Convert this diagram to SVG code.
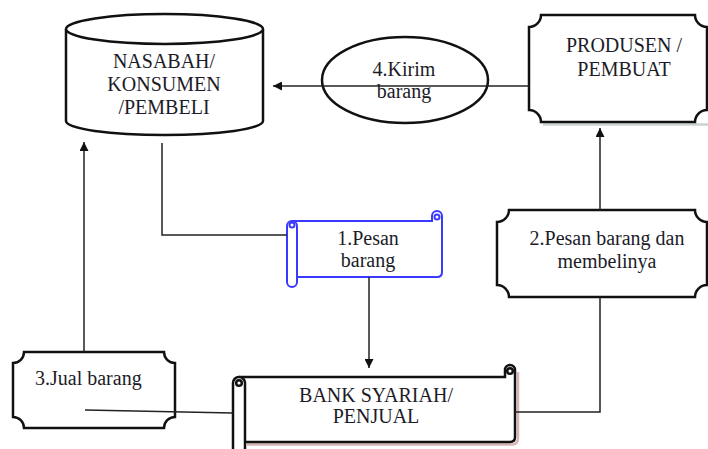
<svg xmlns="http://www.w3.org/2000/svg" width="708" height="449" viewBox="0 0 708 449" font-family="'Liberation Serif', 'DejaVu Serif', serif">
<defs>
<marker id="ah" viewBox="0 0 10 10" refX="10" refY="5" markerWidth="9" markerHeight="9" markerUnits="userSpaceOnUse" orient="auto">
<path d="M0,0 L10,5 L0,10 Z" fill="#111"/>
</marker>
</defs>
<style>
.shape{fill:#fff;stroke:#111;stroke-width:2.5}
.blue{fill:#fff;stroke:#3a3aff;stroke-width:2}
.shadow{fill:none;stroke:#c9d3d3;stroke-width:2.5}
.conn{fill:none;stroke:#222;stroke-width:1.5}
.t{font-family:'Liberation Serif','DejaVu Serif',serif;font-size:20px;fill:#1c1c28;text-anchor:middle}
</style>
<rect width="708" height="449" fill="#fff"/>

<g id="nasabah">
<path class="shape" d="M66,29 V121 A98.5,14 0 0 0 263,121 V29"/>
<ellipse class="shape" cx="164.5" cy="29" rx="98.5" ry="15"/>
<text class="t" x="164" y="68">NASABAH/</text>
<text class="t" x="164" y="91">KONSUMEN</text>
<text class="t" x="164" y="114">/PEMBELI</text>
</g>

<g id="kirim">
<ellipse class="shape" cx="405" cy="80" rx="83" ry="43"/>
</g>

<g id="produsen">
<path class="shadow" d="M543,124.5 H709"/>
<path class="shape" d="M541,15 H695 A12,12 0 0 0 707,27 V110 A12,12 0 0 0 695,122 H541 A12,12 0 0 0 529,110 V27 A12,12 0 0 0 541,15 Z"/>
<text class="t" x="624" y="52">PRODUSEN /</text>
<text class="t" x="624" y="76">PEMBUAT</text>
</g>

<g id="pesan2">
<path class="shape" d="M509,210 H695 A12,12 0 0 0 707,222 V285 A12,12 0 0 0 695,297 H509 A12,12 0 0 0 497,285 V222 A12,12 0 0 0 509,210 Z"/>
<text class="t" x="607" y="245">2.Pesan barang dan</text>
<text class="t" x="607" y="268">membelinya</text>
</g>

<g id="jual">
<path class="shape" d="M24,352 H164 A11,11 0 0 0 175,363 V417 A11,11 0 0 0 164,428 H24 A11,11 0 0 0 13,417 V363 A11,11 0 0 0 24,352 Z"/>
<text class="t" x="35" y="385" style="text-anchor:start">3.Jual barang</text>
</g>

<g id="pesan1">
<path class="blue" d="M292,221 H432 V216 A5,5 0 0 1 442,216 V272 Q442,277 437,277 H292 Z"/>
<circle class="blue" cx="437" cy="217" r="2.5"/>
<path class="blue" d="M287,226 A5,5 0 0 1 297,226 V282 A5,5 0 0 1 287,282 Z"/>
<circle class="blue" cx="292" cy="225" r="2.5"/>
<text class="t" x="368" y="245">1.Pesan</text>
<text class="t" x="368" y="267">barang</text>
</g>

<g id="bank">
<path d="M247,444.5 H512 Q518,444.5 518,438 V372" fill="none" stroke="#d8b4b4" stroke-width="2.5"/>
<path class="shape" d="M240,377 H505 V370 A5,5 0 0 1 515,370 V437 Q515,442 510,442 H240 Z"/>
<circle class="shape" cx="510" cy="371" r="2.8"/>
<path class="shape" d="M233,383 A6,6 0 0 1 245,383 V460 H233 Z"/>
<circle class="shape" cx="239" cy="383" r="2.8"/>
<text class="t" x="376" y="402">BANK SYARIAH/</text>
<text class="t" x="376" y="423">PENJUAL</text>
</g>

<g id="connectors">
<path class="conn" d="M529,86 H273" marker-end="url(#ah)"/>
<path class="conn" d="M162,143 V235 H287"/>
<path class="conn" d="M369,277 V368" marker-end="url(#ah)"/>
<path class="conn" d="M600,210 V128" marker-end="url(#ah)"/>
<path class="conn" d="M600,297 V412 H515"/>
<path class="conn" d="M84,352 V142" marker-end="url(#ah)"/>
<path class="conn" d="M85,410 L233,413"/>
</g>

<g id="kirim-label">
<text class="t" x="404" y="76">4.Kirim</text>
<text class="t" x="404" y="98">barang</text>
</g>
</svg>
